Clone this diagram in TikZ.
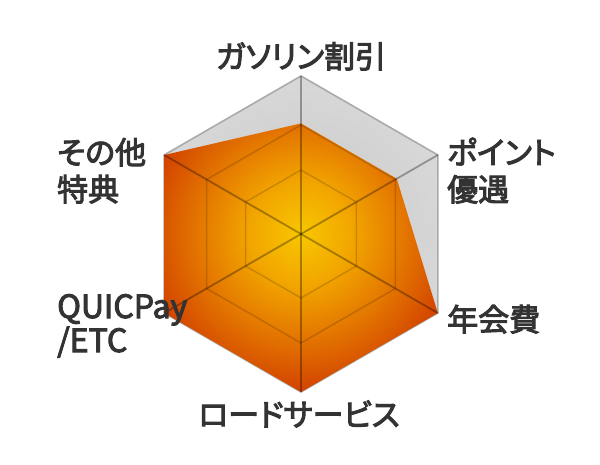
\documentclass[tikz,border=0pt]{standalone}
\usepackage{fontspec}
\setmainfont{Noto Sans CJK JP}[RawFeature={+palt}]
\newfontfamily\labfont{Noto Sans CJK JP}[RawFeature={+palt},RawFeature={embolden=3.2}]
\usetikzlibrary{calc}
\definecolor{oc0}{HTML}{F8C600}
\definecolor{oc1}{HTML}{F2A600}
\definecolor{oc2}{HTML}{E47800}
\definecolor{oc3}{HTML}{D24200}
\definecolor{gc0}{HTML}{C8C8C8}
\definecolor{gc1}{HTML}{D8D8D8}
\definecolor{labelc}{HTML}{333333}
\definecolor{rimc}{HTML}{AAAAAA}
\pgfdeclareradialshading{orangeglow}{\pgfpoint{0bp}{0bp}}{color(0bp)=(oc0); color(8bp)=(oc1); color(16bp)=(oc2); color(25bp)=(oc3); color(50bp)=(oc3)}
\pgfdeclareradialshading{greyglow}{\pgfpoint{0bp}{0bp}}{color(0bp)=(gc0); color(25bp)=(gc1); color(50bp)=(gc1)}
\begin{document}
\begin{tikzpicture}[x=1pt,y=-1pt,
  spoke/.style={black,opacity=0.32,line width=1.8pt},
  gridhex/.style={black,opacity=0.16,line width=1.5pt},
  lab/.style={text=labelc,font=\labfont\fontsize{31}{37}\selectfont,inner sep=0pt,align=left},
  labl/.style={text=labelc,font=\labfont\fontsize{32}{34}\selectfont,inner sep=0pt,align=left}]
\useasboundingbox (0,0) rectangle (600,465);
\coordinate (C) at (301,234);
\coordinate (v1) at (301,76);
\coordinate (v2) at (437.8,155);
\coordinate (v3) at (437.8,313);
\coordinate (v4) at (301,392);
\coordinate (v5) at (164.2,313);
\coordinate (v6) at (164.2,155);
% data points
\coordinate (d1) at ($(C)!0.7!(v1)$);
\coordinate (d2) at ($(C)!0.7!(v2)$);
\coordinate (d3) at (v3);
\coordinate (d4) at (v4);
\coordinate (d5) at (v5);
\coordinate (d6) at (v6);
% grey background
\begin{scope}
  \clip (v1)--(v2)--(v3)--(v4)--(v5)--(v6)--cycle;
  \shade[shading=greyglow] (C) circle[radius=158pt];
\end{scope}
\draw[rimc,line width=1.6pt,line join=miter] (v1)--(v2)--(v3)--(v4)--(v5)--(v6)--cycle;
% data polygon
\begin{scope}
  \clip (d1)--(d2)--(d3)--(d4)--(d5)--(d6)--cycle;
  \shade[shading=orangeglow] (C) circle[radius=158pt];
  \foreach \f in {0.405,0.69}{
    \draw[gridhex] ($(C)!\f!(v1)$)--($(C)!\f!(v2)$)--($(C)!\f!(v3)$)--($(C)!\f!(v4)$)--($(C)!\f!(v5)$)--($(C)!\f!(v6)$)--cycle;
  }
\end{scope}
\foreach \i in {1,...,6}{\draw[spoke] (C)--(v\i);}
% labels
\node[lab,anchor=base] (l1) at (301,68) {ガソリン割引};
\node[lab,anchor=base west] (l2) at (447,201) {ポイント\\優遇};
\node[lab,anchor=base west] (l3) at (447,331) {年会費};
\node[lab,anchor=base] (l4) at (299,426) {ロードサービス};
\node[labl,anchor=base west] (l5) at (57,352) {QUICPay\\/ETC};
\node[lab,anchor=base west] (l6) at (57,201) {その他\\特典};
\end{tikzpicture}
\end{document}
